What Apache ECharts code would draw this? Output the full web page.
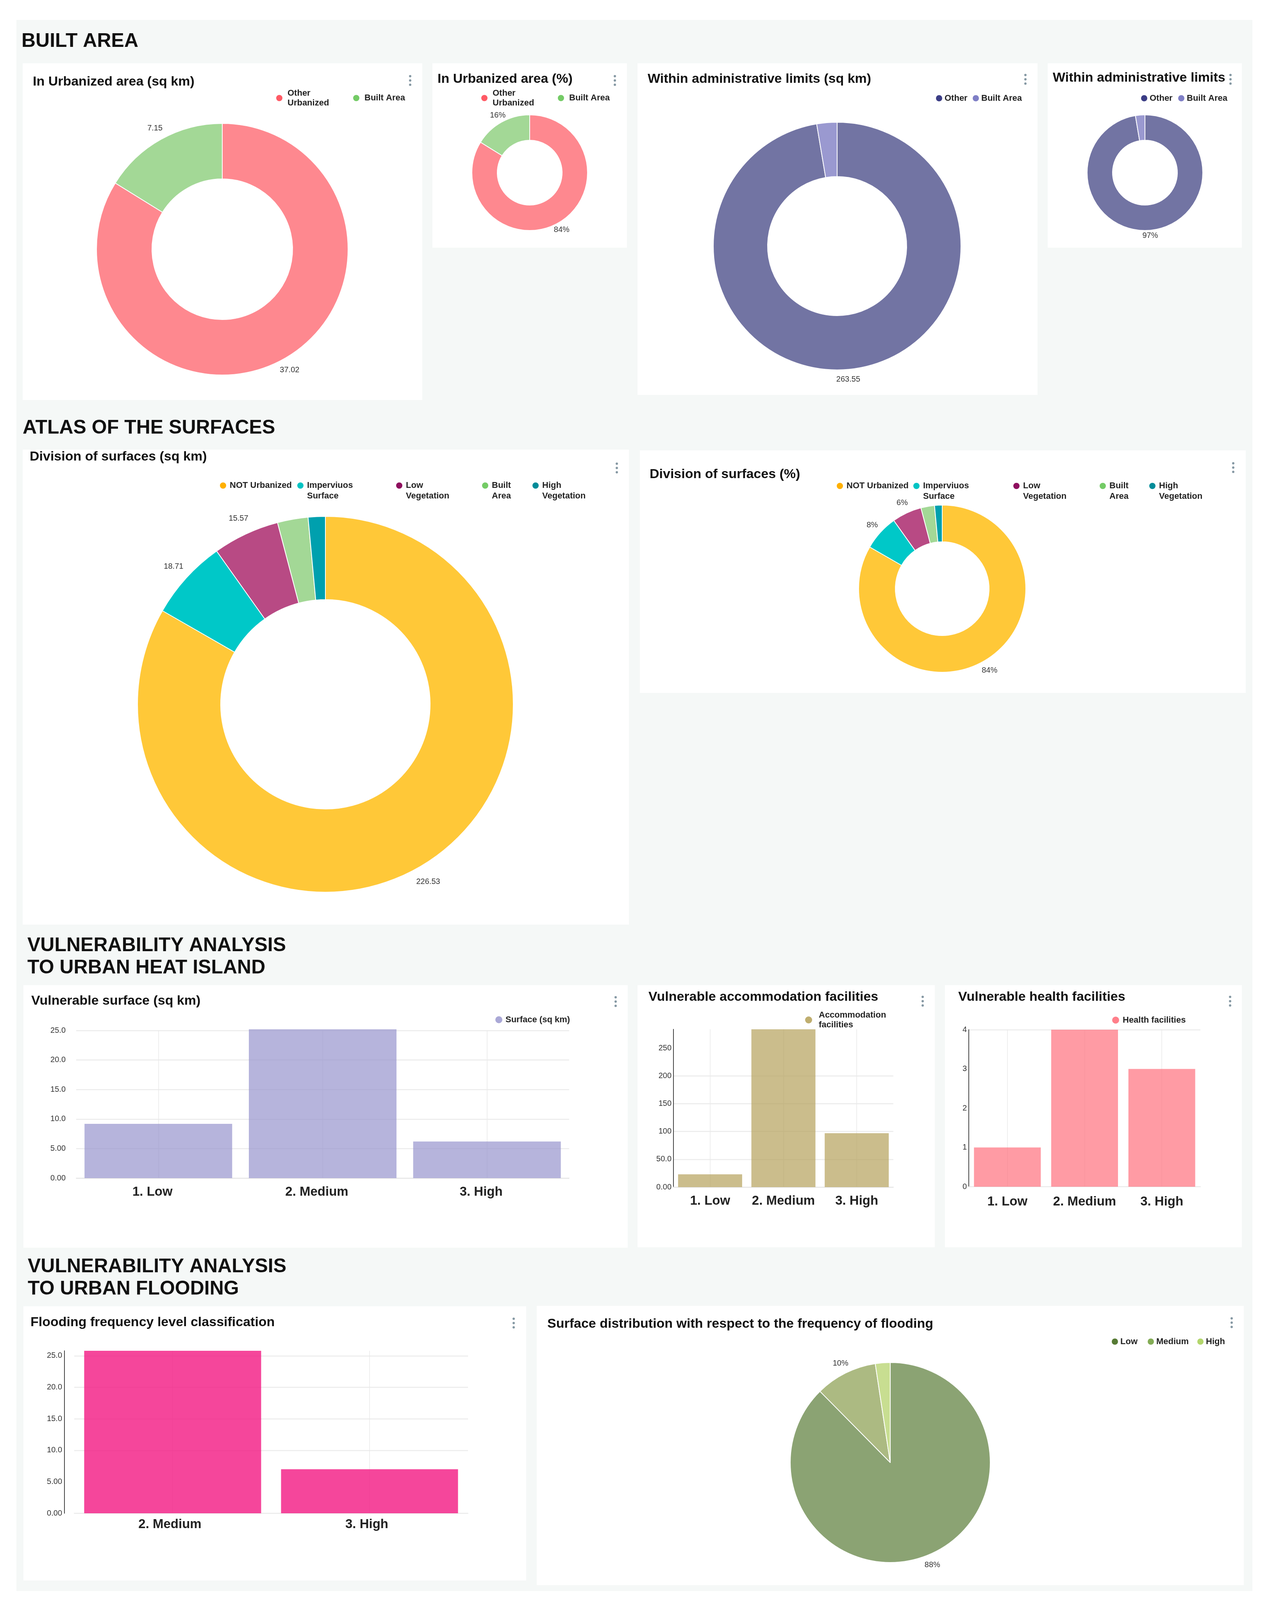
<!DOCTYPE html>
<html>
<head>
<meta charset="utf-8">
<title>Urban vulnerability dashboard</title>
<script src="https://cdn.jsdelivr.net/npm/echarts@6/dist/echarts.min.js"></script>
<style>
  html, body { margin: 0; padding: 0; background: #fff; }
  #chart { width: 3246px; height: 4119px; }
</style>
</head>
<body>
<div id="chart"></div>
<script>
// data
const urbanizedNames = ['Other Urbanized', 'Built Area'];
const urbanizedKm = [37.02, 7.15];
const urbanizedPctLabels = ['84%', '16%'];

const adminNames = ['Other', 'Built Area'];
const adminKm = [263.55, 7.15];
const adminPctLabels = ['97%', ''];

const surfaceNames = ['NOT Urbanized', 'Imperviuos Surface', 'Low Vegetation', 'Built Area', 'High Vegetation'];
const surfaceKm = [226.53, 18.71, 15.57, 7.15, 4.0];
const surfacePctLabels = ['84%', '8%', '6%', '', ''];

const levelNames = ['1. Low', '2. Medium', '3. High'];
const vulnerableSurface = [9.2, 25.2, 6.2];
const accommodation = [23, 284, 97];
const health = [1, 4, 3];

const floodLevels = ['2. Medium', '3. High'];
const floodSurface = [25.8, 7.0];

const floodNames = ['Low', 'Medium', 'High'];
const floodPct = [87.6, 10, 2.4];
const floodPctLabels = ['88%', '10%', ''];

// colours
const urbanSlice = ['#fe888f', '#a3d896'];
const urbanLegend = ['#ff5a65', '#74cb66'];
const adminSlice = ['#7274a3', '#9a99d0'];
const adminLegend = ['#3b3d85', '#7f7fc6'];
const surfaceSlice = ['#ffc838', '#00c8c8', '#b84a84', '#a3d896', '#00a0ae'];
const surfaceLegend = ['#ffb000', '#00c4c4', '#8e0f5e', '#74cb66', '#008c99'];
const floodSlice = ['#8ba373', '#acba82', '#c8de91'];
const floodLegend = ['#567a34', '#83ac55', '#b3d66c'];

const FONT = '"Liberation Sans", Arial, sans-serif';
const wrapped = {
  'Other Urbanized': 'Other\nUrbanized',
  'Accommodation facilities': 'Accommodation\nfacilities'
};
// the surface legends keep the marker on the first line, the blank line centres it there
const wrappedSurface = {
  'Imperviuos Surface': '\nImperviuos\nSurface',
  'Low Vegetation': '\nLow\nVegetation',
  'Built Area': '\nBuilt\nArea',
  'High Vegetation': '\nHigh\nVegetation'
};

// panels: x0, y0, x1, y1, dot x, dot y
const panels = [
  [58, 162, 1081, 1024, 1050, 206],
  [1107, 162, 1605, 634, 1574, 206],
  [1632, 162, 2656, 1011, 2625, 203],
  [2682, 162, 3179, 634, 3150, 203],
  [58, 1151, 1610, 2367, 1579, 1198],
  [1638, 1153, 3189, 1774, 3157, 1197],
  [60, 2522, 1607, 3194, 1576, 2564],
  [1632, 2522, 2393, 3193, 2362, 2563],
  [2419, 2522, 3179, 3193, 3149, 2563],
  [60, 3344, 1347, 4046, 1315, 3387],
  [1374, 3343, 3184, 4058, 3153, 3386]
];

function panelGraphics() {
  const els = [{ type: 'rect', z: -20, shape: { x: 42, y: 51, width: 3164, height: 4022 }, style: { fill: '#f5f8f7' } }];
  panels.forEach(function (p) {
    els.push({ type: 'rect', z: -10, shape: { x: p[0], y: p[1], width: p[2] - p[0], height: p[3] - p[1] }, style: { fill: '#fff' } });
    [-11, 0, 11].forEach(function (d) {
      els.push({ type: 'circle', z: 5, shape: { cx: p[4], cy: p[5] + d, r: 3 }, style: { fill: '#8598a3' } });
    });
  });
  return els;
}

function heading(text, x, cy, size, lh) {
  const lines = text.split('\n').length;
  return {
    text: text, left: x, top: cy - lh * lines / 2, padding: 0,
    textStyle: { fontFamily: FONT, fontWeight: 'bold', fontSize: size, lineHeight: lh, color: '#111' }
  };
}

function legendBlock(names, colors, x, cy, itemWidth, textWidths, opts) {
  opts = opts || {};
  const lh = opts.lh || 25;
  const wrap = opts.wrap || wrapped;
  const maxLines = Math.max.apply(null, names.map(function (n) { return (wrap[n] || n).split('\n').length; }));
  return {
    left: x - itemWidth / 2,
    top: cy - (maxLines > 1 ? lh * maxLines / 2 : 12),
    padding: 0, itemGap: 0, itemWidth: itemWidth, itemHeight: 18,
    icon: 'circle', selectedMode: false, orient: 'horizontal',
    formatter: function (n) { return wrap[n] || n; },
    textStyle: { fontFamily: FONT, fontWeight: 'bold', fontSize: 22, lineHeight: lh, color: '#222' },
    data: names.map(function (n, i) {
      return { name: n, itemStyle: { color: colors[i], opacity: 1 }, textStyle: { width: textWidths[i] } };
    })
  };
}

function pie(names, values, labels, colors, cx, cy, r0, r1, gap) {
  return {
    type: 'pie', center: [cx, cy], radius: [r0, r1], startAngle: 90, clockwise: true,
    avoidLabelOverlap: false, animation: false, silent: true,
    itemStyle: { borderColor: '#fff', borderWidth: 2 },
    labelLine: { show: false, length: gap, length2: 0 },
    labelLayout: { align: 'center', verticalAlign: 'middle' },
    data: names.map(function (n, i) {
      return {
        name: n, value: values[i],
        itemStyle: { color: colors[i] },
        label: {
          show: !!labels[i], position: 'outside', distanceToLabelLine: 0, formatter: labels[i] || '',
          fontFamily: FONT, fontSize: 20, color: '#333'
        }
      };
    })
  };
}

const kmLabels = function (values, n) {
  return values.map(function (v, i) { return i < n ? v.toFixed(2) : ''; });
};

const grids = [], xAxes = [], yAxes = [], barSeries = [];

function sigFormat(v) { return v.toPrecision(3); }

function bars(cfg) {
  const idx = grids.length;
  grids.push({ left: cfg.left, top: cfg.top, width: cfg.width, height: cfg.height });
  xAxes.push({
    type: 'category', gridIndex: idx, data: cfg.categories,
    axisTick: { show: false },
    axisLine: { lineStyle: { color: '#e6e6e6', width: 2 } },
    splitLine: { show: true, alignWithLabel: true, lineStyle: { color: '#e8e8e8', width: 1.5 } },
    axisLabel: {
      fontFamily: FONT, fontWeight: 'bold', fontSize: 33, color: '#222', margin: cfg.xMargin,
      padding: [0, cfg.labelShift || 0, 0, 0], interval: 0
    }
  });
  yAxes.push({
    type: 'value', gridIndex: idx, min: 0, max: cfg.max, interval: cfg.interval, offset: cfg.offset || 0,
    axisTick: { show: false },
    axisLine: { show: !!cfg.yLine, lineStyle: { color: '#444', width: 2 } },
    axisLabel: {
      fontFamily: FONT, fontSize: 20, color: '#333', margin: cfg.yMargin,
      showMaxLabel: cfg.showMax !== false, formatter: cfg.format || sigFormat
    },
    splitLine: { show: true, lineStyle: { color: cfg.lines, width: 3 } }
  });
  barSeries.push({
    type: 'bar', name: cfg.name, xAxisIndex: idx, yAxisIndex: idx, data: cfg.values,
    barWidth: cfg.barWidth, clip: false, animation: false, silent: true,
    itemStyle: { color: cfg.color, opacity: cfg.opacity }
  });
}

bars({
  name: 'Surface (sq km)', categories: levelNames, values: vulnerableSurface,
  left: 195, top: 2638, width: 1262, height: 378, max: 25, interval: 5,
  barWidth: 378, color: '#9794cd', opacity: 0.7, xMargin: 19, yMargin: 27, labelShift: 30,
  lines: ['#eee']
});
bars({
  name: 'Accommodation facilities', categories: levelNames, values: accommodation,
  left: 1724, top: 2635, width: 563, height: 404, max: 284, interval: 50, showMax: false,
  barWidth: 164, color: '#b5a15b', opacity: 0.7, xMargin: 19, yMargin: 5, yLine: true,
  lines: ['#eee', '#eee', '#eee', '#eee', '#eee', 'transparent', 'transparent']
});
bars({
  name: 'Health facilities', categories: levelNames, values: health,
  left: 2480, top: 2636, width: 593, height: 402, max: 4, interval: 1,
  barWidth: 171, color: '#ff707e', opacity: 0.7, xMargin: 22, yMargin: 5, yLine: true,
  format: function (v) { return String(v); },
  lines: ['transparent', 'transparent', 'transparent', 'transparent', '#eee']
});
bars({
  name: 'Flooding frequency', categories: floodLevels, values: floodSurface,
  left: 190, top: 3458, width: 1008, height: 416, max: 25.8, interval: 5, showMax: false,
  barWidth: 453, color: '#f21882', opacity: 0.8, xMargin: 12, yMargin: 6, offset: 25, yLine: true, labelShift: 14,
  lines: ['transparent', 'transparent', '#eee', '#eee', '#eee', '#eee', 'transparent']
});

const option = {
  backgroundColor: '#fff',
  animation: false,
  tooltip: { show: false },
  graphic: { elements: panelGraphics() },
  title: [
    heading('BUILT AREA', 55, 106, 50, 60),
    heading('ATLAS OF THE SURFACES', 58, 1096, 50, 60),
    heading('VULNERABILITY ANALYSIS\nTO URBAN HEAT ISLAND', 70, 2450, 50, 57),
    heading('VULNERABILITY ANALYSIS\nTO URBAN FLOODING', 71, 3272, 50, 57),
    heading('In Urbanized area (sq km)', 84, 210, 34, 40),
    heading('In Urbanized area (%)', 1120, 203, 34, 40),
    heading('Within administrative limits (sq km)', 1658, 203, 34, 40),
    heading('Within administrative limits', 2695, 200, 34, 40),
    heading('Division of surfaces (sq km)', 76, 1170, 34, 40),
    heading('Division of surfaces (%)', 1663, 1215, 34, 40),
    heading('Vulnerable surface (sq km)', 80, 2563, 34, 40),
    heading('Vulnerable accommodation facilities', 1660, 2553, 34, 40),
    heading('Vulnerable health facilities', 2453, 2553, 34, 40),
    heading('Flooding frequency level classification', 78, 3386, 34, 40),
    heading('Surface distribution with respect to the frequency of flooding', 1401, 3390, 34, 40)
  ],
  legend: [
    legendBlock(urbanizedNames, urbanLegend, 721, 251, 32, [166, 110]),
    legendBlock(urbanizedNames, urbanLegend, 1246, 251, 32, [165, 110]),
    legendBlock(adminNames, adminLegend, 2403, 251, 18, [70, 110]),
    legendBlock(adminNames, adminLegend, 2928, 251, 18, [71, 110]),
    legendBlock(surfaceNames, surfaceLegend, 573, 1243, 24, [171, 226, 193, 102, 120], { lh: 27, wrap: wrappedSurface }),
    legendBlock(surfaceNames, surfaceLegend, 2152, 1244, 24, [169, 229, 194, 100, 120], { lh: 27, wrap: wrappedSurface }),
    legendBlock(['Surface (sq km)'], ['#aaa8d6'], 1280, 2610, 24, [175]),
    legendBlock(['Accommodation facilities'], ['#bfae6f'], 2082, 2611, 42, [175]),
    legendBlock(['Health facilities'], ['#ff7f8a'], 2860, 2611, 26, [170]),
    legendBlock(floodNames, floodLegend, 2853, 3434, 18, [68, 103, 60])
  ],
  grid: grids,
  xAxis: xAxes,
  yAxis: yAxes,
  series: [
    pie(urbanizedNames, urbanizedKm, kmLabels(urbanizedKm, 2), urbanSlice, 569, 638, 180, 322, 32),
    pie(urbanizedNames, urbanizedKm, urbanizedPctLabels, urbanSlice, 1356, 442, 83, 148, 20),
    pie(adminNames, adminKm, kmLabels(adminKm, 1), adminSlice, 2143, 630, 178, 317, 26),
    pie(adminNames, adminKm, adminPctLabels, adminSlice, 2931, 442, 83, 148, 14),
    pie(surfaceNames, surfaceKm, kmLabels(surfaceKm, 3), surfaceSlice, 833, 1803, 268, 481, 44),
    pie(surfaceNames, surfaceKm, surfacePctLabels, surfaceSlice, 2412, 1507, 120, 214, 28),
    pie(floodNames, floodPct, floodPctLabels, floodSlice, 2279, 3744, 0, 256, 28)
  ].concat(barSeries)
};

const chart = echarts.init(document.getElementById('chart'));
chart.setOption(option);
</script>
</body>
</html>
